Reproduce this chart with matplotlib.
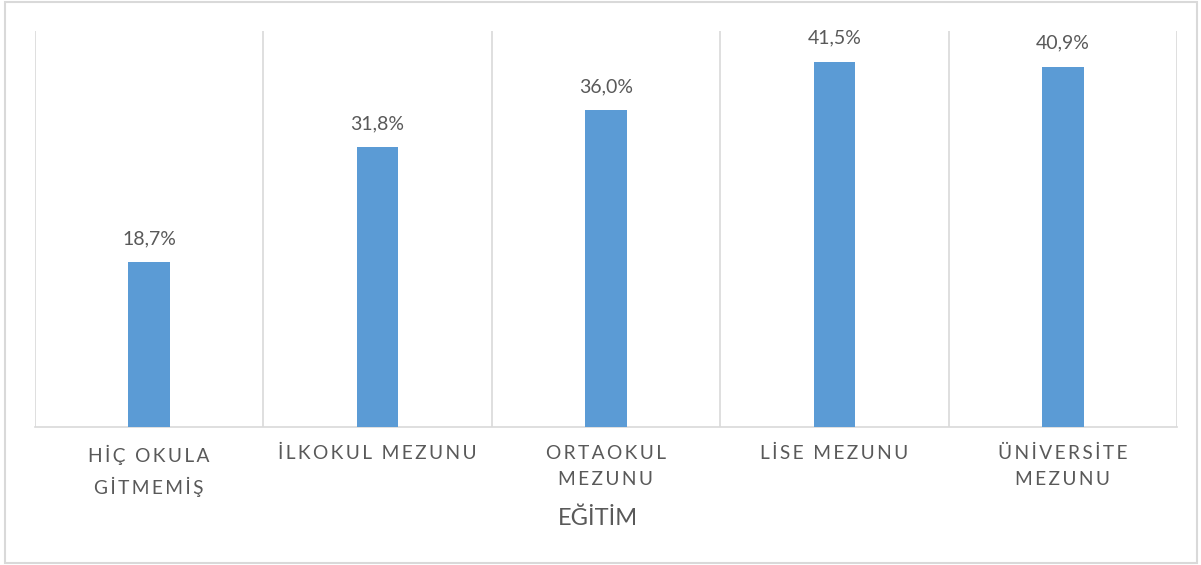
import matplotlib
matplotlib.use("Agg")
import matplotlib.pyplot as plt
from matplotlib.patches import Rectangle

# Data
categories = ["HİÇ OKULA\nGİTMEMİŞ", "İLKOKUL MEZUNU", "ORTAOKUL\nMEZUNU",
              "LİSE MEZUNU", "ÜNİVERSİTE\nMEZUNU"]
values = [18.7, 31.8, 36.0, 41.5, 40.9]
axis_title = "EĞİTİM"

BAR_COLOR = "#5b9bd5"
GRID_COLOR = "#d9d9d9"
TEXT_COLOR = "#595959"

plt.rcParams["font.family"] = ["Lato", "DejaVu Sans"]

THIN = "\u2009"


def spaced(label):
    # mimic the wide character spacing of the original axis labels
    lines = []
    for line in label.split("\n"):
        words = [THIN.join(w) for w in line.split(" ")]
        lines.append((THIN + " " + THIN).join(words))
    return "\n".join(lines)


fig = plt.figure(figsize=(12.01, 5.65), dpi=100)
ax = fig.add_axes([35 / 1201, 1 - 427 / 565, 1142 / 1201, 396 / 565])

x = list(range(len(categories)))
bars = ax.bar(x, values, width=0.182, color=BAR_COLOR, zorder=3)
ax.bar_label(bars, labels=[f"{v:.1f}%".replace(".", ",") for v in values],
             padding=11, fontsize=14, color=TEXT_COLOR)

ax.set_xlim(-0.5, len(categories) - 0.5)
ax.set_ylim(0, 45)

# vertical separators between categories
for b in range(len(categories) + 1):
    ax.axvline(b - 0.5, color=GRID_COLOR, lw=1.2, zorder=1)

for side in ["left", "right", "top"]:
    ax.spines[side].set_visible(False)
ax.spines["bottom"].set_color(GRID_COLOR)
ax.spines["bottom"].set_linewidth(1.2)

ax.set_yticks([])
ax.set_xticks(x)
ax.set_xticklabels([spaced(c) for c in categories], fontsize=13.8,
                   color=TEXT_COLOR, linespacing=1.65)
ax.tick_params(axis="x", length=0, pad=13)

fig.text(598 / 1201, 1 - 518 / 565, axis_title, ha="center", va="center",
         fontsize=17, color=TEXT_COLOR)

# outer chart border
fig.patches.append(Rectangle((5 / 1201, 2 / 565), 1192 / 1201, 561 / 565,
                             transform=fig.transFigure, fill=False,
                             edgecolor=GRID_COLOR, lw=1.5))

fig.savefig("out.png", dpi=100)
